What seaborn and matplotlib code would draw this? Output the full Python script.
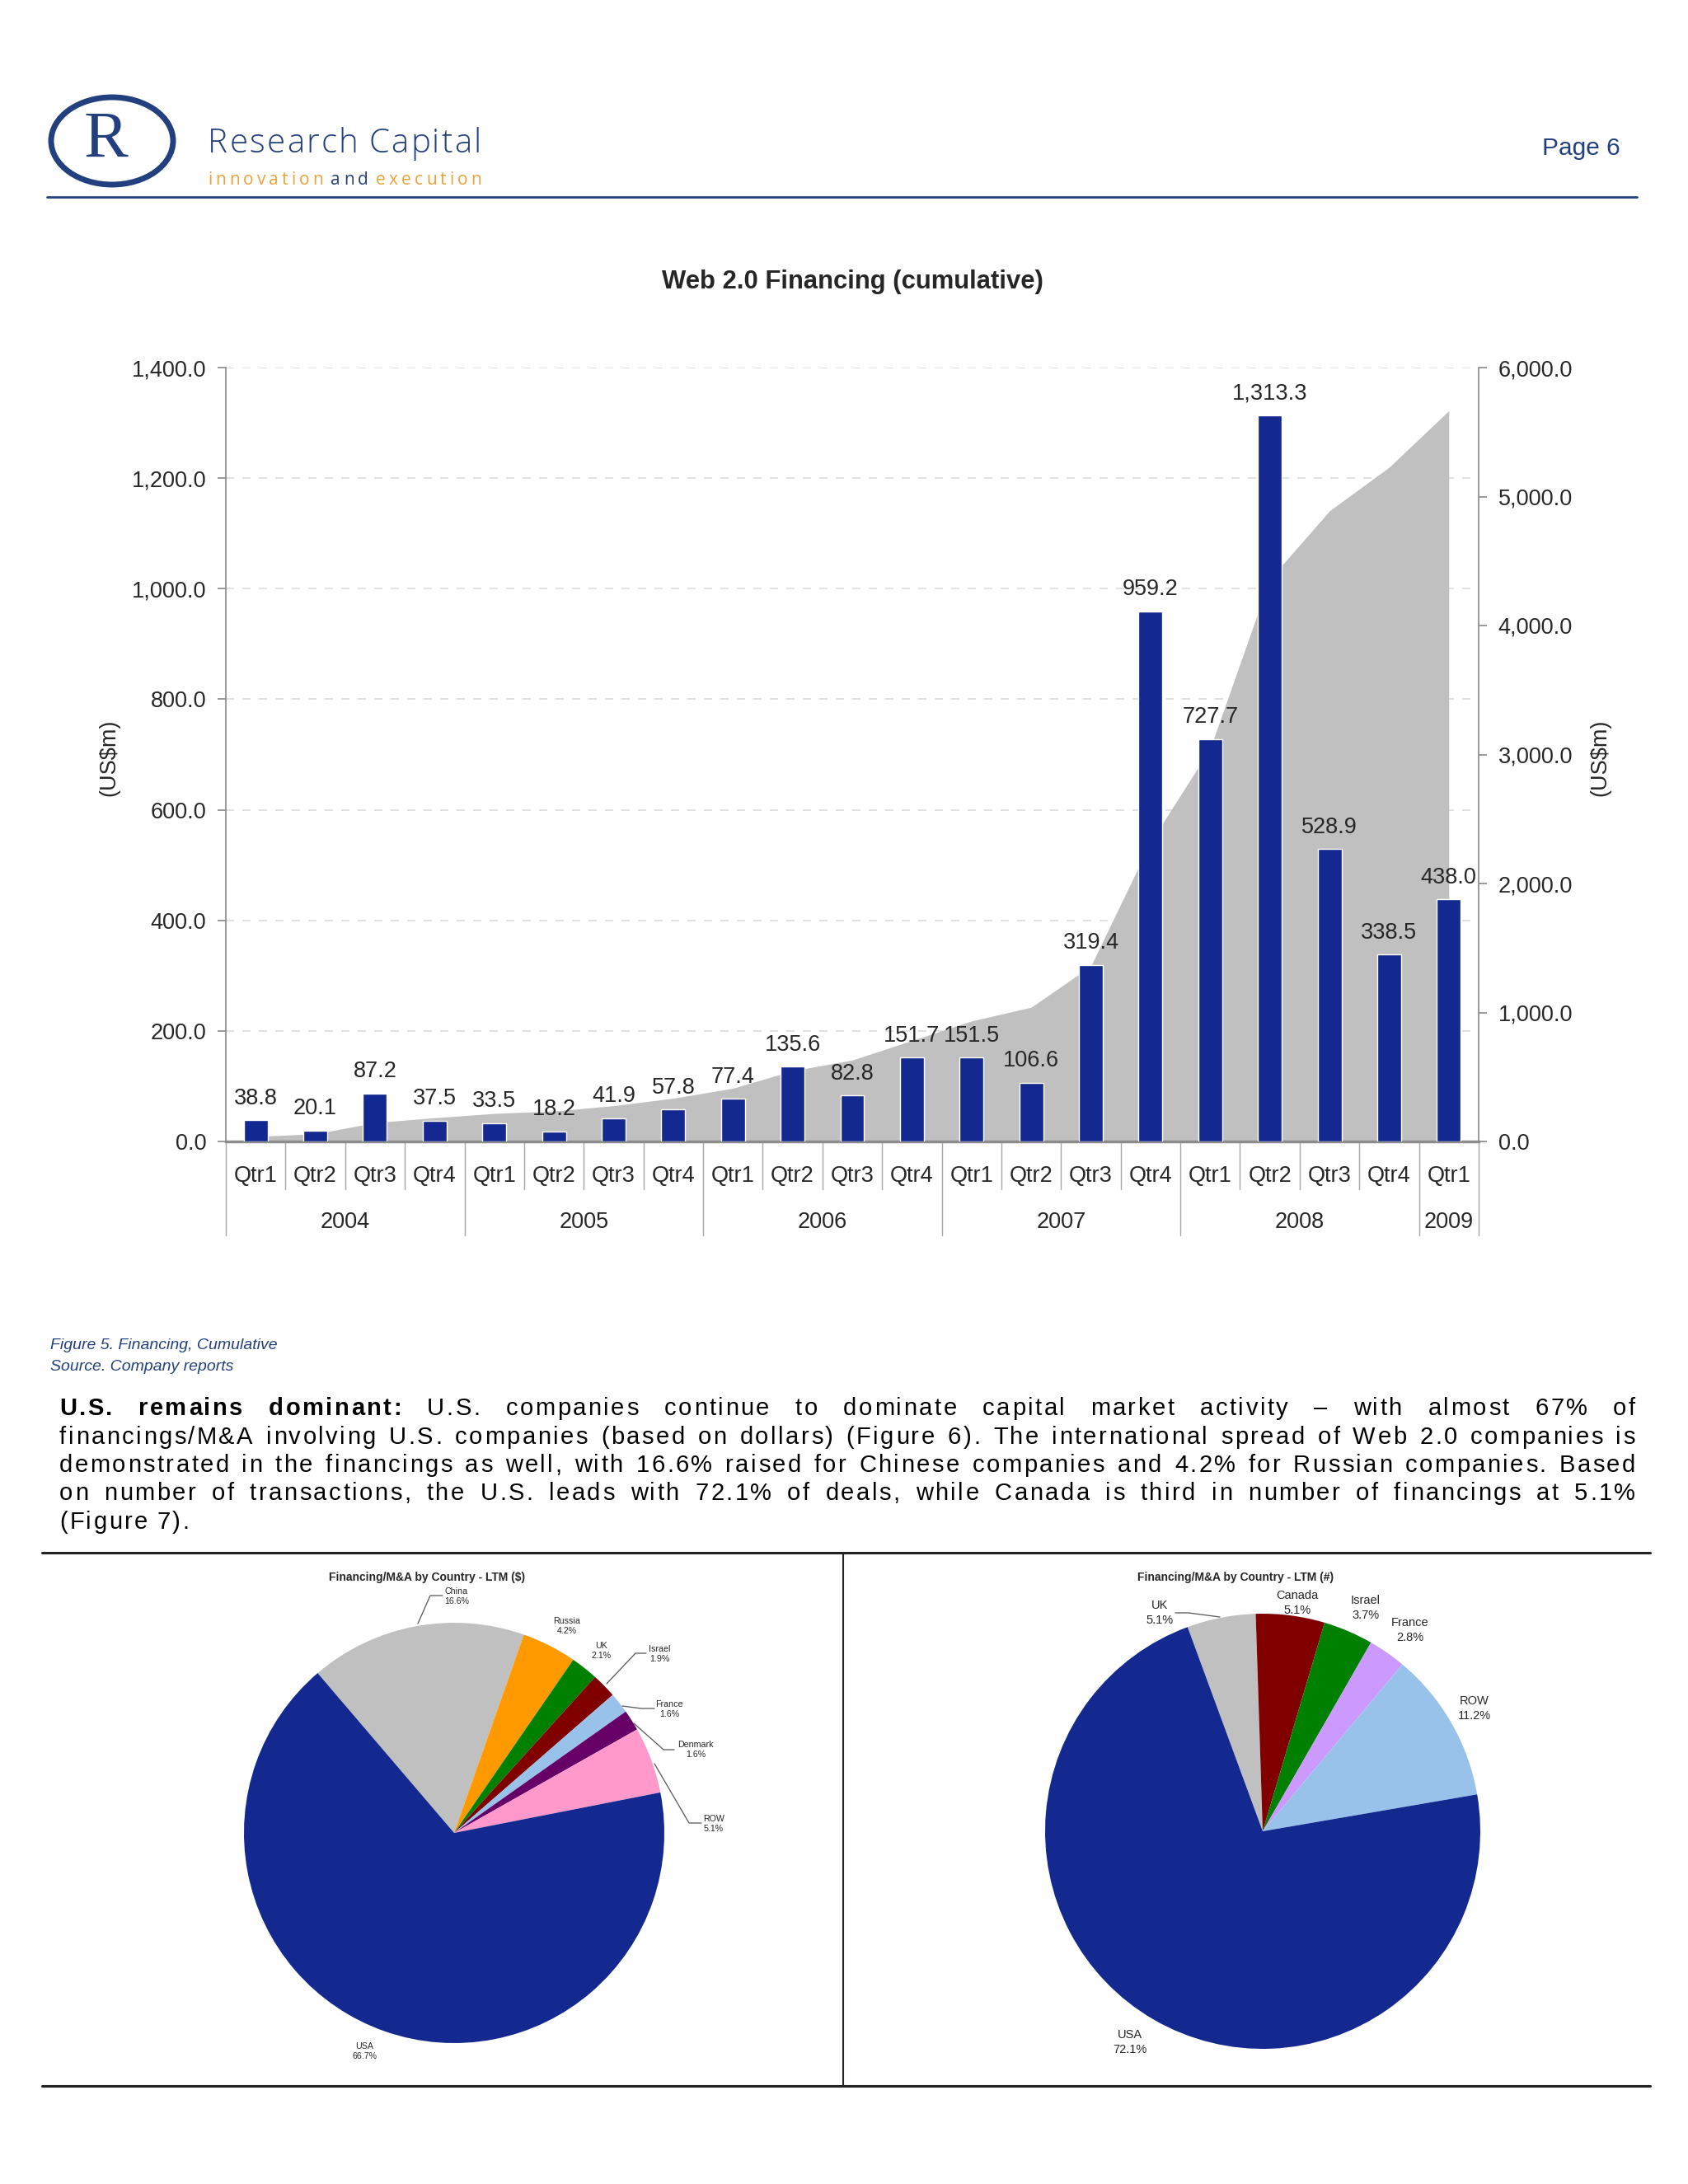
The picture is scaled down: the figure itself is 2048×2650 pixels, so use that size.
import matplotlib
matplotlib.use('Agg')
import matplotlib.pyplot as plt
import numpy as np
import pandas as pd
import seaborn as sns
from matplotlib.lines import Line2D
from matplotlib.patches import Ellipse
from matplotlib.ticker import FuncFormatter
from matplotlib.font_manager import FontProperties

# ---- data ----
quarters = ['Qtr1', 'Qtr2', 'Qtr3', 'Qtr4'] * 5 + ['Qtr1']
years = [2004] * 4 + [2005] * 4 + [2006] * 4 + [2007] * 4 + [2008] * 4 + [2009]
financing = [38.8, 20.1, 87.2, 37.5, 33.5, 18.2, 41.9, 57.8, 77.4, 135.6, 82.8,
             151.7, 151.5, 106.6, 319.4, 959.2, 727.7, 1313.3, 528.9, 338.5, 438.0]
cumulative = [38.8, 58.9, 146.1, 183.6, 217.1, 235.3, 277.2, 335.0, 412.4, 548.0, 630.8,
              782.5, 934.0, 1040.6, 1360.0, 2319.2, 3046.9, 4360.2, 4889.1, 5227.6, 5665.6]

dollar_countries = ['China', 'Russia', 'UK', 'Israel', 'France', 'Denmark', 'ROW', 'USA']
dollar_share = [16.6, 4.2, 2.1, 1.9, 1.6, 1.6, 5.1, 66.7]
count_countries = ['UK', 'Canada', 'Israel', 'France', 'ROW', 'USA']
count_share = [5.1, 5.1, 3.7, 2.8, 11.2, 72.1]

body_lines = [
    "U.S. remains dominant: U.S. companies continue to dominate capital market activity \u2013 with almost 67% of",
    "financings/M&A involving U.S. companies (based on dollars) (Figure 6). The international spread of Web 2.0 companies is",
    "demonstrated in the financings as well, with 16.6% raised for Chinese companies and 4.2% for Russian companies. Based",
    "on number of transactions, the U.S. leads with 72.1% of deals, while Canada is third in number of financings at 5.1%",
    "(Figure 7).",
]

# ---- style ----
NAVY = '#13298F'
HEAD = '#22407F'
ORANGE = '#E9A23B'
SILVER = '#C0C0C0'
dollar_colors = [SILVER, '#FF9900', '#008000', '#800000', '#99C2EA', '#660066', '#FF99CC', NAVY]
count_colors = [SILVER, '#800000', '#008000', '#CC99FF', '#99C2EA', NAVY]

sns.set_theme(style='white')
plt.rcParams['font.family'] = ['Liberation Sans', 'DejaVu Sans']

W, H = 2048, 2650
fig = plt.figure(figsize=(W / 100, H / 100), dpi=100)
fig.patch.set_facecolor('white')
renderer = fig.canvas.get_renderer()


def fx(x):
    return x / W


def fy(y):
    return 1 - y / H


def hline(x0, x1, y, **kw):
    fig.add_artist(Line2D([fx(x0), fx(x1)], [fy(y), fy(y)], transform=fig.transFigure, **kw))


def twidth(s, fp):
    return renderer.get_text_width_height_descent(s, fp, ismath=False)[0]


def justify(words, y, x0, x1=None, t=1.0, spread_letters=False):
    # words: list of (text, FontProperties, color); fills x0..x1 letter by letter
    base = words[0][1]
    space = twidth('a a', base) - twidth('aa', base)
    widths = [[twidth(c, fp) for c in w] for w, fp, _ in words]
    nchars = sum(len(w) for w, _, _ in words)
    nw = len(words)
    sumw = sum(sum(ws) for ws in widths)
    e = 0.0
    if x1 is not None:
        if spread_letters:
            t = (x1 - x0 - sumw - (nw - 1) * space) / (nchars - 1)
        else:
            e = (x1 - x0 - sumw - t * (nchars - 1) - (nw - 1) * space) / (nw - 1)
    x = x0
    for (w, fp, col), ws in zip(words, widths):
        for c, cw in zip(w, ws):
            fig.text(fx(x), fy(y), c, fontproperties=fp, color=col, ha='left', va='baseline')
            x += cw + t
        x += space + e


# ---- header ----
fig.add_artist(Ellipse((fx(136), fy(171)), 148 / W, 106 / H, transform=fig.transFigure,
                       fill=False, edgecolor=HEAD, linewidth=5))
fig.text(fx(128), fy(171), 'R', fontsize=58, color=HEAD, family='Liberation Serif',
         ha='center', va='center')
fp_rc = FontProperties(family='Open Sans', weight='light', size=29)
justify([(w, fp_rc, HEAD) for w in 'Research Capital'.split()], 185, 252, 584,
        spread_letters=True)
fp_tag = FontProperties(family='Open Sans', size=15)
justify([('innovation', fp_tag, ORANGE), ('and', fp_tag, HEAD), ('execution', fp_tag, ORANGE)],
        224, 252, 584, spread_letters=True)
fig.text(fx(1966), fy(188), 'Page 6', fontsize=21.5, color=HEAD, ha='right', va='baseline')
hline(57, 1986, 239, color=HEAD, linewidth=2)

# ---- bar + area chart ----
fig.text(fx(1034), fy(342), 'Web 2.0 Financing (cumulative)', fontsize=22.3,
         fontweight='bold', ha='center', va='center')

df = pd.DataFrame({'period': [f'{y} {q}' for y, q in zip(years, quarters)],
                   'quarter': quarters, 'year': years,
                   'financing': financing, 'cumulative': cumulative})
xpos = np.arange(len(df))

ax = fig.add_axes([fx(274), fy(1385), (1794 - 274) / W, (1385 - 446) / H])
ax.set_xlim(-0.5, len(df) - 0.5)
ax.set_ylim(0, 1400)
ax.set_yticks(np.arange(0, 1401, 200))
ax.yaxis.set_major_formatter(FuncFormatter(lambda v, _: f'{v:,.1f}'))
ax.set_xticks([])
ax.grid(axis='y', color='#DCDCDC', linestyle=(0, (6, 6)), linewidth=1.2)
for s in ['top', 'right', 'bottom']:
    ax.spines[s].set_visible(False)
ax.spines['left'].set_color('#8C8C8C')
ax.tick_params(axis='y', left=True, direction='out', length=7, color='#8C8C8C',
               labelsize=19.5, pad=10)

ax2 = ax.twinx()
ax2.set_ylim(0, 6000)
ax2.set_yticks(np.arange(0, 6001, 1000))
ax2.yaxis.set_major_formatter(FuncFormatter(lambda v, _: f'{v:,.1f}'))
ax2.fill_between(xpos, df['cumulative'], color=SILVER, linewidth=0)
for s in ['top', 'left']:
    ax2.spines[s].set_visible(False)
ax2.spines['right'].set_color('#8C8C8C')
ax2.spines['bottom'].set_color('#8C8C8C')
ax2.spines['bottom'].set_linewidth(2.5)
ax2.tick_params(axis='y', right=True, direction='out', length=7, color='#8C8C8C',
                labelsize=19.5, pad=10)
ax.set_zorder(0)
ax2.set_zorder(1)
ax2.patch.set_visible(False)

axb = fig.add_axes(ax.get_position())
axb.set_zorder(2)
axb.patch.set_visible(False)
sns.barplot(data=df, x='period', y='financing', color=NAVY, saturation=1, width=0.4,
            errorbar=None, ax=axb)
axb.set_xlim(-0.5, len(df) - 0.5)
axb.set_ylim(0, 1400)
axb.axis('off')
for i, v in enumerate(df['financing']):
    axb.annotate(f'{v:,.1f}', (i, v), xytext=(0, 14), textcoords='offset points',
                 ha='center', va='baseline', fontsize=19.5)

# category axis: quarters, years and separators
trans = ax2.get_xaxis_transform()
axh = 1385 - 446
for i, q in enumerate(df['quarter']):
    ax2.text(i, -42 / axh, q, transform=trans, ha='center', va='center', fontsize=19.5)
year_breaks = [-0.5]
for yr, grp in df.groupby('year'):
    mid = (grp.index.min() + grp.index.max()) / 2
    ax2.text(mid, -98 / axh, str(yr), transform=trans, ha='center', va='center', fontsize=19.5)
    year_breaks.append(grp.index.max() + 0.5)
for b in np.arange(-0.5, len(df), 1.0):
    depth = 114 if b in year_breaks else 58
    ax2.plot([b, b], [0, -depth / axh], transform=trans, color='#A6A6A6', linewidth=1,
             clip_on=False)

fig.text(fx(132), fy(919), '(US$m)', rotation=90, fontsize=19.5, ha='center', va='center')
fig.text(fx(1941), fy(919), '(US$m)', rotation=90, fontsize=19.5, ha='center', va='center')

# ---- caption and body text ----
fig.text(fx(61), fy(1637), 'Figure 5. Financing, Cumulative', fontsize=14, style='italic',
         color=HEAD, va='baseline')
fig.text(fx(61), fy(1663), 'Source. Company reports', fontsize=14, style='italic',
         color=HEAD, va='baseline')

fp_body = FontProperties(family='Liberation Sans', size=21)
fp_bold = FontProperties(family='Liberation Sans', size=21, weight='bold')
for k, line in enumerate(body_lines):
    words = line.split()
    items = [(w, fp_bold if (k == 0 and j < 3) else fp_body, 'black') for j, w in enumerate(words)]
    y = 1717 + 34.5 * k
    if k < len(body_lines) - 1:
        justify(items, y, 72, 1984, t=2.5)
    else:
        justify(items, y, 72, None, t=2.5)

# ---- pie charts ----
hline(51, 2002, 1884, color='#222222', linewidth=2.2)
hline(51, 2002, 2531, color='#222222', linewidth=2.2)
fig.add_artist(Line2D([fx(1023), fx(1023)], [fy(1884), fy(2531)], transform=fig.transFigure,
                      color='#222222', linewidth=1.5))


def draw_pie(cx, cy, r, shares, colors, start):
    axp = fig.add_axes([fx(cx - r), fy(cy + r), 2 * r / W, 2 * r / H])
    axp.pie(shares, colors=colors, startangle=start, counterclock=False, radius=1,
            wedgeprops=dict(linewidth=0))
    axp.set_xlim(-1, 1)
    axp.set_ylim(-1, 1)
    axp.set_aspect('equal')
    axp.axis('off')


def leader(pts):
    fig.add_artist(Line2D([fx(p[0]) for p in pts], [fy(p[1]) for p in pts],
                          transform=fig.transFigure, color='#555555', linewidth=0.9))


draw_pie(551, 2224, 255, dollar_share, dollar_colors, 130.5)
fig.text(fx(518), fy(1914), 'Financing/M&A by Country - LTM ($)', fontsize=10,
         fontweight='bold', ha='center', va='center')
dollar_label_pos = [(554, 1937), (688, 1973), (730, 2003), (800, 2007), (812, 2074),
                    (844, 2123), (866, 2213), (442, 2489)]
for name, val, (lx, ly) in zip(dollar_countries, dollar_share, dollar_label_pos):
    fig.text(fx(lx), fy(ly), f'{name}\n{val:.1f}%', fontsize=7.7, ha='center', va='center',
             linespacing=1.3)
leader([(507, 1970), (522, 1936), (537, 1936)])
leader([(736, 2043), (771, 2006), (784, 2006)])
leader([(755, 2070), (778, 2073), (794, 2073)])
leader([(769, 2091), (805, 2123), (818, 2123)])
leader([(794, 2140), (836, 2212), (851, 2212)])

draw_pie(1532, 2222, 264, count_share, count_colors, 110.2)
fig.text(fx(1499), fy(1914), 'Financing/M&A by Country - LTM (#)', fontsize=10,
         fontweight='bold', ha='center', va='center')
count_label_pos = [(1407, 1957), (1574, 1945), (1657, 1951), (1711, 1978), (1789, 2073),
                   (1371, 2478)]
for name, val, (lx, ly) in zip(count_countries, count_share, count_label_pos):
    fig.text(fx(lx), fy(ly), f'{name}\n{val:.1f}%', fontsize=10.5, ha='center', va='center',
             linespacing=1.35)
leader([(1480, 1962), (1442, 1957), (1426, 1957)])

fig.savefig('out.png', dpi=100, facecolor='white')
